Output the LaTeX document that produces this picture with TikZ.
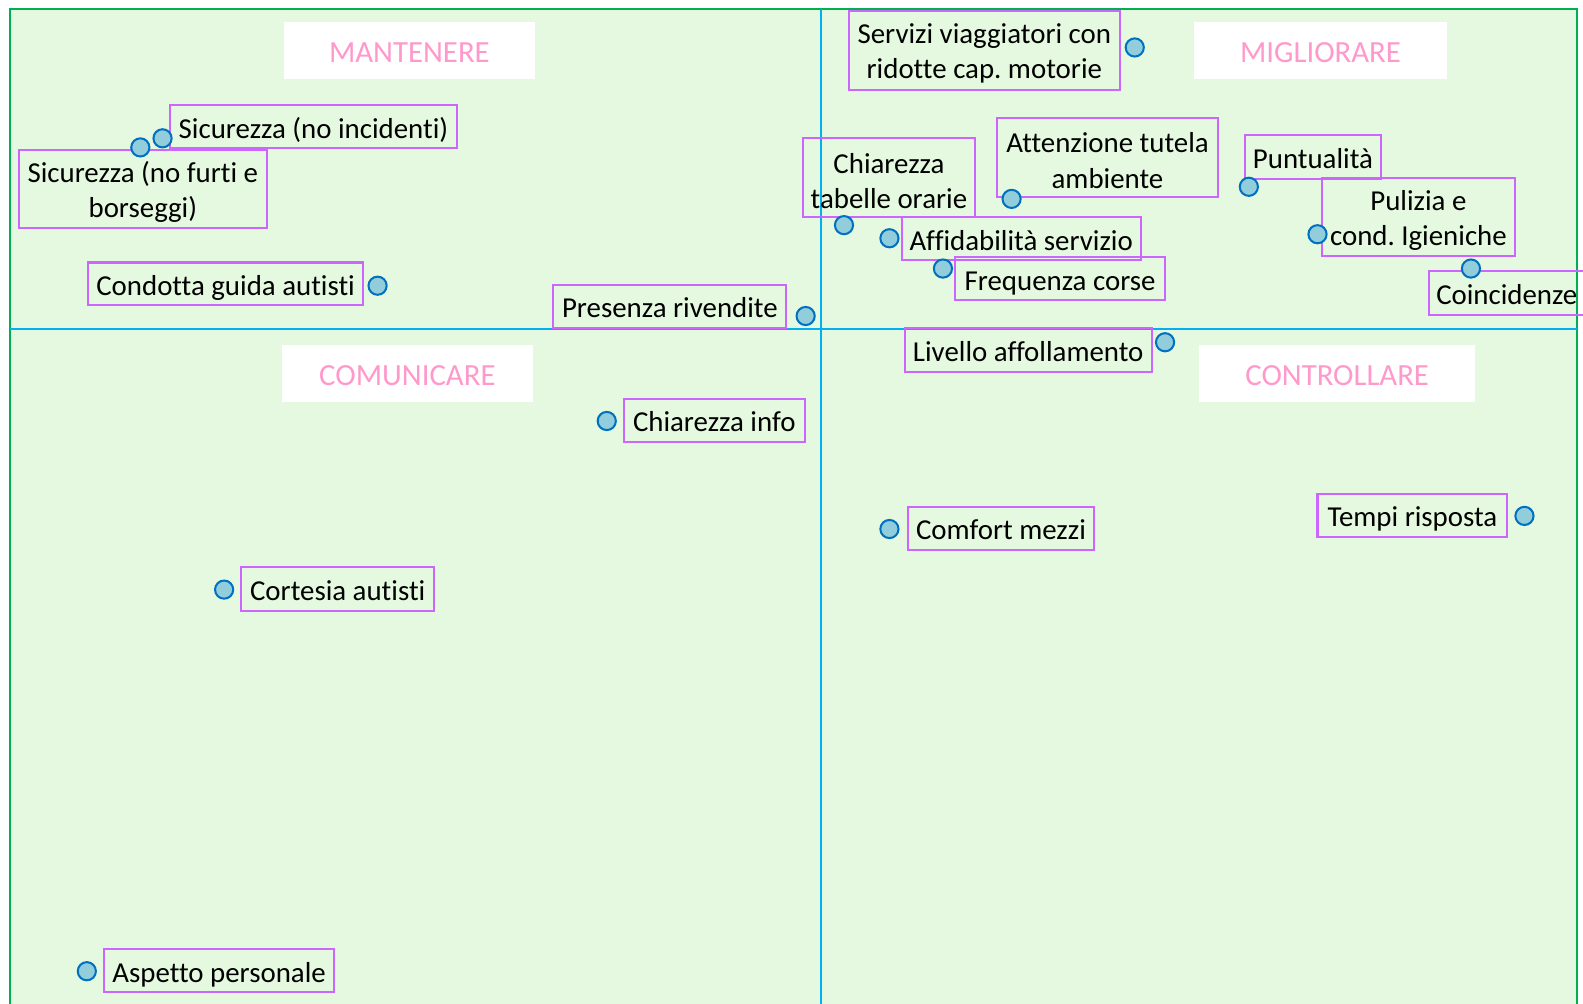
\documentclass[tikz,border=0pt]{standalone}
\usepackage{fontspec}
\setmainfont{Carlito}[Ligatures={NoCommon}]
\frenchspacing
\definecolor{bgreen}{HTML}{E4F9DF}
\definecolor{framegreen}{HTML}{00B050}
\definecolor{axisblue}{HTML}{00B0F0}
\definecolor{boxpurple}{HTML}{CC66FF}
\definecolor{dotfill}{HTML}{92CDDC}
\definecolor{dotline}{HTML}{0070C0}
\definecolor{titlepink}{HTML}{FF99CC}
\newcommand{\topstrut}{\rule{0pt}{26pt}}
\tikzset{
  lbl/.style={draw=boxpurple, line width=2pt, inner sep=0pt, align=center,
    font=\fontsize{28.6}{35}\selectfont\frenchspacing, text=black},
  onel/.style={lbl, text height=28pt, text depth=5.5pt},
  dot/.style={circle, draw=dotline, fill=dotfill, line width=2pt, minimum size=18pt, inner sep=0pt},
  titlebox/.style={fill=white, inner sep=0pt, text=titlepink,
    font=\fontsize{30.5}{36}\selectfont, text height=24pt, text depth=0pt},
}
\begin{document}
\begin{tikzpicture}[x=1pt,y=-1pt]
\useasboundingbox (0,0) rectangle (1568,993.5);
\fill[white] (0,0) rectangle (1568,993.5);
% frame
\draw[framegreen, fill=bgreen, line width=2pt] (10,9) rectangle (1562,1010);
% axes
\coordinate (vt) at (813,9);
\coordinate (vb) at (813,1010);
\coordinate (hl) at (10,326);
\coordinate (hr) at (1562,326);
\draw[axisblue, line width=2pt] (vt) -- (vb);
\draw[axisblue, line width=2pt] (hl) -- (hr);
% titles
\node[titlebox, minimum width=249pt, minimum height=56pt] (tman) at (405.5,50) {MANTENERE};
\node[titlebox, minimum width=250pt, minimum height=56pt] (tmig) at (1308,50) {MIGLIORARE};
\node[titlebox, minimum width=249pt, minimum height=56pt] (tcom) at (403.5,370) {COMUNICARE};
\node[titlebox, minimum width=273pt, minimum height=56pt] (tcon) at (1324.5,370) {CONTROLLARE};
% labels
\node[onel, minimum width=285pt, minimum height=43pt] (l1) at (310.5,125.5) {Sicurezza (no incidenti)};
\node[lbl, minimum width=245pt, minimum height=77pt] (l2) at (141.5,187.5) {\topstrut Sicurezza (no furti e\\borseggi)};
\node[onel, minimum width=273pt, minimum height=42pt] (l3) at (223.5,281) {Condotta guida autisti};
\node[onel, minimum width=231pt, minimum height=43pt] (l4) at (663.5,303.5) {Presenza rivendite};
\node[lbl, minimum width=268pt, minimum height=78pt] (l5) at (975,50) {\topstrut Servizi viaggiatori con\\ridotte cap. motorie};
\node[lbl, minimum width=171pt, minimum height=78pt] (l6) at (880.5,176) {\topstrut Chiarezza\\tabelle orarie};
\node[lbl, minimum width=218pt, minimum height=78pt] (l7) at (1097,156) {\topstrut Attenzione tutela\\ambiente};
\node[onel, minimum width=135pt, minimum height=43pt] (l8) at (1300.5,155.5) {Puntualità};
\node[lbl, minimum width=192pt, minimum height=78pt] (l9) at (1405,215) {\topstrut Pulizia e\\cond. Igieniche};
\node[onel, minimum width=237pt, minimum height=43pt] (l10) at (1011.5,236.5) {Affidabilità servizio};
\node[onel, minimum width=208pt, minimum height=42pt] (l11) at (1050,276) {Frequenza corse};
\node[onel, minimum width=155pt, minimum height=44pt] (l12) at (1492.5,290) {Coincidenze};
\node[onel, minimum width=245pt, minimum height=43pt] (l13) at (1018.5,346.5) {Livello affollamento};
\node[onel, minimum width=179pt, minimum height=43pt] (l14) at (707.5,416.5) {Chiarezza info};
\node[onel, minimum width=185pt, minimum height=43pt] (l15) at (991.5,523.5) {Comfort mezzi};
\node[onel, minimum width=188pt, minimum height=43pt] (l16) at (1399,510.5) {Tempi risposta};
\node[onel, minimum width=191pt, minimum height=43pt] (l17) at (334.5,583.5) {Cortesia autisti};
\node[onel, minimum width=228pt, minimum height=43pt] (l18) at (217,961.5) {Aspetto personale};
% dots
\node[dot] (d1) at (161,137) {};
\node[dot] (d2) at (139,146) {};
\node[dot] (d3) at (374,283) {};
\node[dot] (d4) at (798,313) {};
\node[dot] (d5) at (1124,47) {};
\node[dot] (d6) at (836,223) {};
\node[dot] (d7) at (1002,197) {};
\node[dot] (d8) at (1237,185) {};
\node[dot] (d9) at (1305,232) {};
\node[dot] (d10) at (881,236) {};
\node[dot] (d11) at (934,266) {};
\node[dot] (d12) at (1457,266) {};
\node[dot] (d13) at (1154,339) {};
\node[dot] (d14) at (601,417) {};
\node[dot] (d15) at (881,524) {};
\node[dot] (d16) at (1510,511) {};
\node[dot] (d17) at (222,584) {};
\node[dot] (d18) at (86,962) {};
\end{tikzpicture}
\end{document}
